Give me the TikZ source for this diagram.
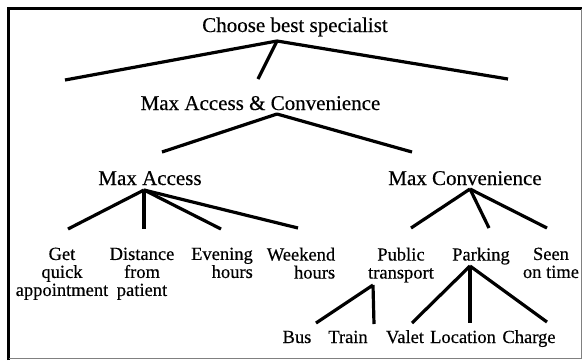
\documentclass[tikz,border=0pt]{standalone}
\usepackage{fontspec}
\setmainfont[FakeBold=0.4]{Liberation Serif}
\begin{document}
\begin{tikzpicture}[x=1pt,y=-1pt,
  heading/.style={font=\fontsize{21}{24}\selectfont,inner sep=0pt,anchor=base},
  leaf/.style={font=\fontsize{18.5}{18}\selectfont,inner sep=0pt,anchor=north,align=center},
  subleaf/.style={font=\fontsize{18.5}{18}\selectfont,inner sep=0pt,anchor=base},
  branch/.style={line width=3.2pt}]
\useasboundingbox (0,0) rectangle (582,360);
\draw[line width=3pt] (8.5,360) -- (8.5,8.5) -- (582,8.5);
\draw[gray,line width=1pt] (8.5,358.5) -- (581.5,358.5) -- (581.5,8.5);

\node[heading] (best) at (295,32) {Choose best specialist};
\node[heading] (mac) at (260.5,110) {Max Access \& Convenience};
\node[heading] (access) at (150,185) {Max Access};
\node[heading] (conv) at (465,185) {Max Convenience};

\node[leaf] (quick) at (62,247.5) {Get\\quick\\appointment};
\node[leaf] (dist) at (142,247.5) {Distance\\from\\patient};
\node[leaf,align=right] (evening) at (222,247.5) {Evening\\hours};
\node[leaf,align=right] (weekend) at (301,247.5) {Weekend\\hours};
\node[leaf] (public) at (401,247.5) {Public\\transport};
\node[leaf] (parking) at (481,247.5) {Parking};
\node[leaf] (ontime) at (551,247.5) {Seen\\on time};

\node[subleaf] (bus) at (297,343) {Bus};
\node[subleaf] (train) at (348,343) {Train};
\node[subleaf] (valet) at (405,343) {Valet};
\node[subleaf] (location) at (463,343) {Location};
\node[subleaf] (charge) at (529,343) {Charge};

\coordinate (best-a) at (277,41);
\coordinate (best-l) at (65,80);
\coordinate (best-m) at (258,79);
\coordinate (best-r) at (508,79);
\draw[branch] (best-a) -- (best-l);
\draw[branch] (best-a) -- (best-m);
\draw[branch] (best-a) -- (best-r);

\coordinate (mac-a) at (277,114);
\coordinate (mac-l) at (162,152);
\coordinate (mac-r) at (412,152);
\draw[branch] (mac-a) -- (mac-l);
\draw[branch] (mac-a) -- (mac-r);

\coordinate (access-a) at (144,190);
\coordinate (access-1) at (68,229);
\coordinate (access-2) at (144,229);
\coordinate (access-3) at (221,229);
\coordinate (access-4) at (298,228);
\draw[branch] (access-a) -- (access-1);
\draw[branch] (access-a) -- (access-2);
\draw[branch] (access-a) -- (access-3);
\draw[branch] (access-a) -- (access-4);

\coordinate (conv-a) at (470,189);
\coordinate (conv-1) at (411,228);
\coordinate (conv-2) at (489,228);
\coordinate (conv-3) at (547,228);
\draw[branch] (conv-a) -- (conv-1);
\draw[branch] (conv-a) -- (conv-2);
\draw[branch] (conv-a) -- (conv-3);

\coordinate (public-a) at (373,285);
\coordinate (public-1) at (316,323);
\coordinate (public-2) at (374,324);
\draw[branch] (public-a) -- (public-1);
\draw[branch] (public-a) -- (public-2);

\coordinate (parking-a) at (470,266);
\coordinate (parking-1) at (412,323);
\coordinate (parking-2) at (470,323);
\coordinate (parking-3) at (547,322);
\draw[branch] (parking-a) -- (parking-1);
\draw[branch] (parking-a) -- (parking-2);
\draw[branch] (parking-a) -- (parking-3);
\end{tikzpicture}
\end{document}
